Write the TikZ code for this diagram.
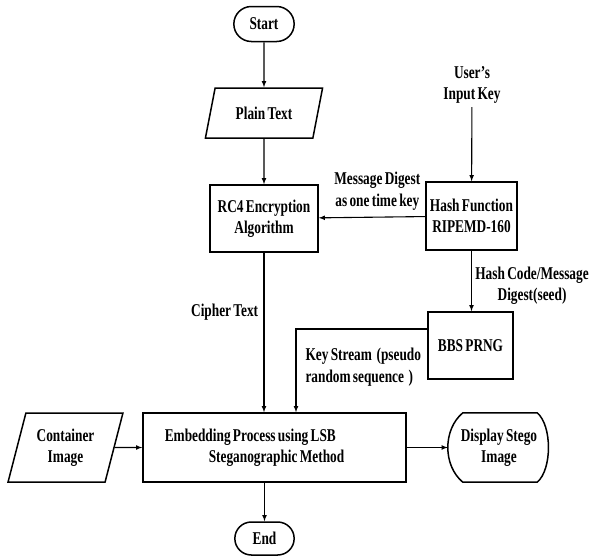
\documentclass[tikz,border=0pt]{standalone}
\usepackage{fontspec}
\setmainfont{Liberation Serif}[FakeStretch=0.74, WordSpace=0.7]
\usetikzlibrary{shapes, arrows, positioning, calc}
\tikzset{
    term/.style={rounded rectangle, draw, line width=1.5pt, minimum width=67pt, minimum height=35pt},
    inout/.style={trapezium, trapezium left angle=72, trapezium right angle=108, trapezium stretches=true, draw, line width=1.5pt, align=center},
    proc/.style={rectangle, draw, line width=1.5pt, align=center},
    lbl/.style={align=center},
    arrow/.style={->, >=latex, line width=1.1pt}
}

\begin{document}
\begin{tikzpicture}[x=1pt, y=-1pt, every node/.style={font=\bfseries\fontsize{18}{21.5}\selectfont}]
    \useasboundingbox (0,0) rectangle (590,558);

    % Main column
    \node[term] (start) at (264,24) {Start};
    \node[inout, minimum width=118pt, minimum height=50pt] (plain) at (264,113) {Plain Text};
    \node[proc, minimum width=108pt, minimum height=67pt] (rc4) at (264,218.5) {RC4 Encryption\\Algorithm};

    % Key side
    \node[lbl] (ukey) at (472,85) {User’s\\Input Key};
    \node[proc, minimum width=91pt, minimum height=68pt] (hash) at (471.5,216) {Hash Function\\RIPEMD-160};
    \node[proc, minimum width=85pt, minimum height=67pt] (bbs) at (470.5,345.5) {BBS PRNG};

    % Bottom row
    \node[inout, minimum width=115pt, minimum height=69pt] (cont) at (65.5,447.5) {Container\\Image};
    \node[proc, minimum width=263pt, minimum height=69pt] (embed) at (274.5,447.5) {};
    \node[align=left, anchor=west] (embtxt) at ([xshift=19pt]embed.west)
        {Embedding Process using LSB\\\hspace*{44pt}Steganographic Method};
    \node[lbl, minimum width=102pt, minimum height=69pt] (disp) at (499,447.5) {Display Stego\\Image};
    \draw[line width=1.5pt] ($(disp.north west)+(15,0)$) -- ($(disp.north east)+(-13,0)$)
        .. controls ($(disp.east)+(2,-22)$) and ($(disp.east)+(2,22)$) .. ($(disp.south east)+(-13,0)$)
        -- ($(disp.south west)+(15,0)$)
        .. controls ($(disp.west)+(-5,18)$) and ($(disp.west)+(-5,-18)$) .. cycle;
    \node[term, minimum width=66pt, minimum height=33pt] (end) at (264.5,538.5) {End};

    % Connections
    \draw[arrow] (start) -- (plain);
    \draw[arrow] (plain) -- (rc4);
    \draw[arrow] (ukey) -- (hash);
    \draw[arrow] (hash) -- node[above=3pt, pos=0.45, lbl] {Message Digest\\as one time key} (rc4);
    \draw[arrow] (hash.south) -- node[right, pos=0.58, lbl] {Hash Code/Message\\Digest(seed)} (hash.south |- bbs.north);
    \coordinate (ks) at ([yshift=16.5pt]bbs.west);
    \coordinate (kd) at (embed.north -| 296,0);
    \draw[arrow] (ks) -| (kd);
    \node[align=left, anchor=west] (kslbl) at (302,367) {Key Stream \ (pseudo\\random sequence \ )};
    \draw[arrow] (rc4.south) -- node[left=2pt, pos=0.37] {Cipher Text} (rc4.south |- embed.north);
    \draw[arrow] (cont) -- (embed);
    \draw[arrow] (embed) -- (disp.west);
    \draw[arrow] (embed.south -| end.north) -- (end.north);
\end{tikzpicture}
\end{document}
